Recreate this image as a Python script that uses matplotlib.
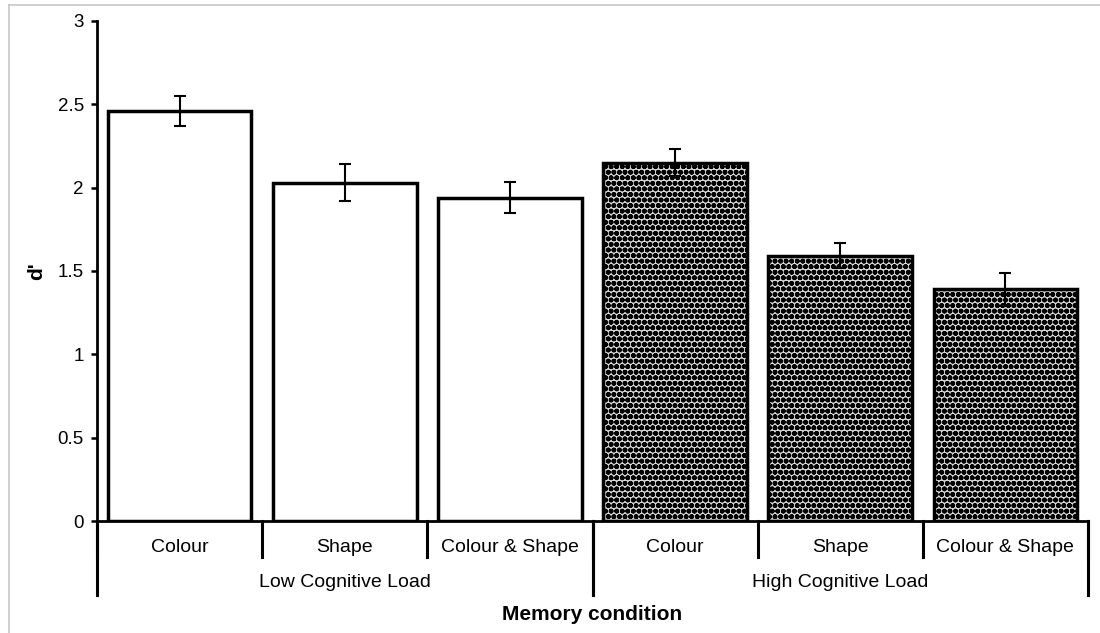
import matplotlib.pyplot as plt
from matplotlib.lines import Line2D
import numpy as np

plt.rcParams['font.family'] = ['Liberation Sans', 'DejaVu Sans']
plt.rcParams['hatch.linewidth'] = 1.8

# d' per memory condition
conditions = ['Colour', 'Shape', 'Colour & Shape', 'Colour', 'Shape', 'Colour & Shape']
groups = ['Low Cognitive Load', 'High Cognitive Load']
dprime = [2.46, 2.03, 1.94, 2.15, 1.59, 1.39]
sem = [0.09, 0.11, 0.095, 0.08, 0.075, 0.10]
hatched = [False, False, False, True, True, True]

fig = plt.figure(figsize=(11, 6.33), dpi=100)
ax = fig.add_axes([0.0882, 0.1769, 0.9009, 0.790])

x = np.arange(len(dprime))
for xi, v, e, h in zip(x, dprime, sem, hatched):
    ax.bar(xi, v, width=0.87, facecolor='#d8d8d8' if h else 'white', edgecolor='black',
           linewidth=2.5, hatch='ooo' if h else None, zorder=2)
    ax.errorbar(xi, v, yerr=e, fmt='none', ecolor='black', elinewidth=1.5,
                capsize=4, capthick=1.5, zorder=3)

ax.set_xlim(-0.5, len(dprime) - 0.5)
ax.set_ylim(0, 3)
ax.set_yticks([0, 0.5, 1, 1.5, 2, 2.5, 3])
ax.set_yticklabels(['0', '0.5', '1', '1.5', '2', '2.5', '3'], fontsize=13.5)
ax.tick_params(axis='y', length=4.5, width=1.8, direction='out', pad=5)
ax.set_xticks([])
for s in ['top', 'right']:
    ax.spines[s].set_visible(False)
for s in ['left', 'bottom']:
    ax.spines[s].set_linewidth(2.0)

ax.set_ylabel("d'", fontsize=15, fontweight='bold', labelpad=8)

# two-level category axis
tr = ax.get_xaxis_transform()
for b in np.arange(-0.5, len(dprime)):
    ax.plot([b, b], [0, -0.072], color='black', lw=2.2, transform=tr, clip_on=False)
for xi, c in zip(x, conditions):
    ax.text(xi, -0.052, c, fontsize=14, ha='center', va='center', transform=tr)
ngroup = len(dprime) // len(groups)
for gi, g in enumerate(groups):
    left = gi * ngroup - 0.5
    right = left + ngroup
    for b in [left, right]:
        ax.plot([b, b], [0, -0.148], color='black', lw=2.2, transform=tr, clip_on=False)
    ax.text((left + right) / 2, -0.122, g, fontsize=14, ha='center', va='center', transform=tr)
ax.text(0.5, -0.186, 'Memory condition', fontsize=15, fontweight='bold',
        ha='center', va='center', transform=ax.transAxes)

# thin grey frame of the original image
fig.add_artist(Line2D([8.5 / 1100, 1], [1 - 4.5 / 633, 1 - 4.5 / 633], color='#c8c8c8', lw=1.2))
fig.add_artist(Line2D([8.5 / 1100, 8.5 / 1100], [0, 1 - 4.5 / 633], color='#c8c8c8', lw=1.2))

fig.savefig('out.png', dpi=100)
